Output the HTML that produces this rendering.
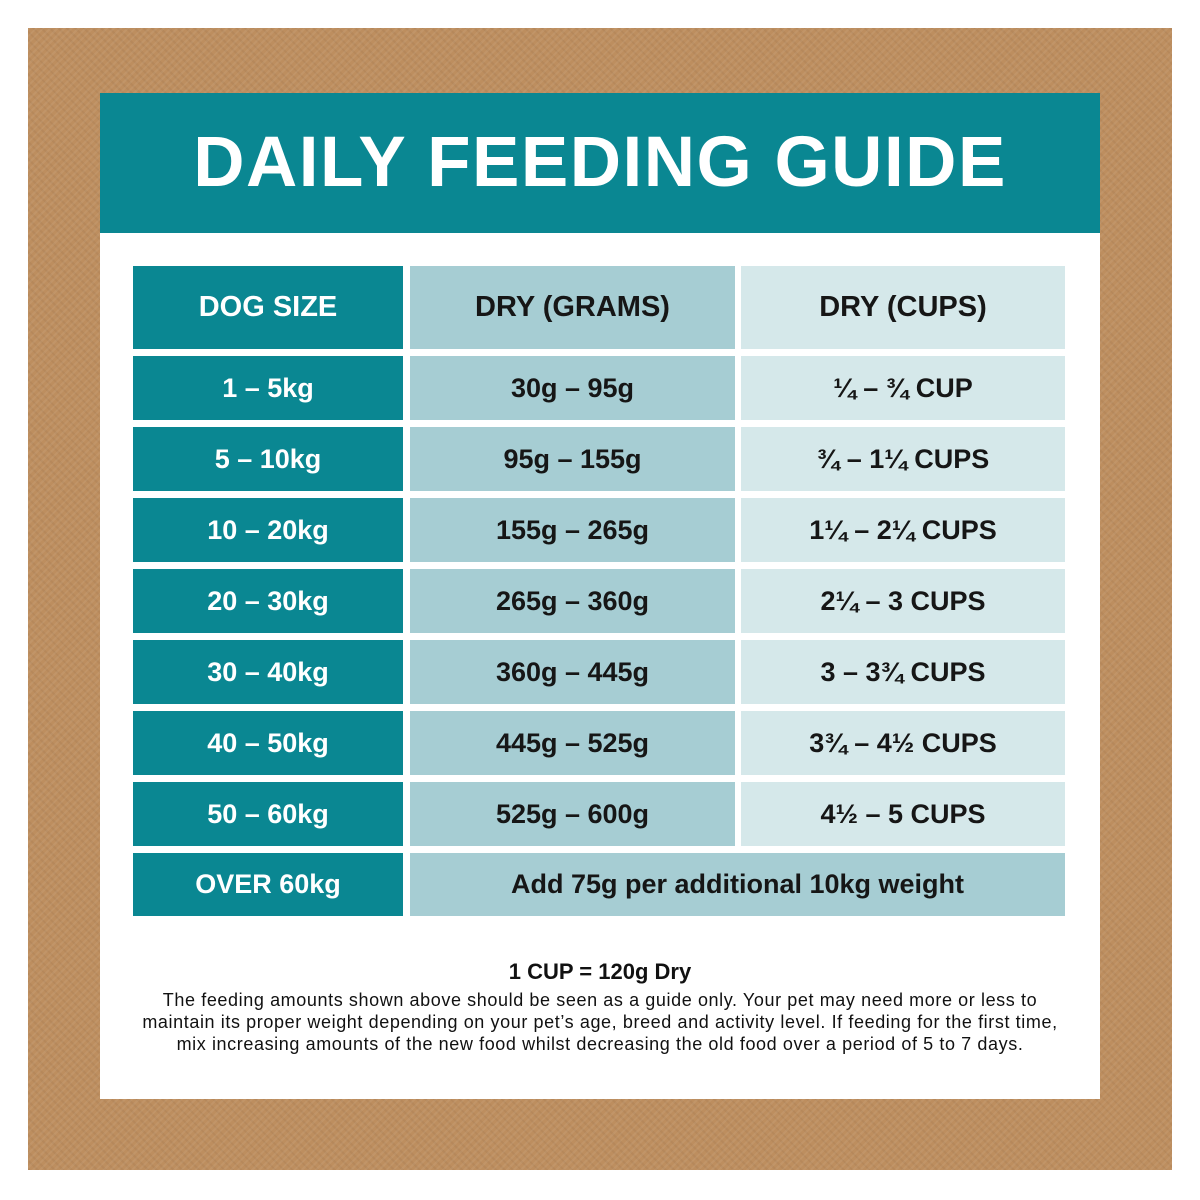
<!DOCTYPE html>
<html><head><meta charset="utf-8"><style>
*{margin:0;padding:0;box-sizing:border-box}
body{width:1200px;height:1200px;background:#fff;position:relative;font-family:"Liberation Sans",sans-serif;overflow:hidden}
.brown{position:absolute;left:28px;top:28px;width:1144px;height:1142px;background:#bd8e5f;
background-image:repeating-linear-gradient(135deg,rgba(255,255,255,.06) 0 2px,transparent 2px 5px),repeating-linear-gradient(45deg,rgba(0,0,0,.04) 0 2px,transparent 2px 6px)}
.panel{position:absolute;left:100px;top:93px;width:1000px;height:1006px;background:#fff}
.head{position:absolute;left:0;top:0;width:1000px;height:140px;background:#0a8792;color:#fff;font-weight:bold;font-size:71px;text-align:center;line-height:140px;letter-spacing:1.5px}
.c{position:absolute;display:flex;align-items:center;justify-content:center;font-weight:bold;font-size:27px;color:#161616}
.t{background:#0a8792;color:#fff}
.m{background:#a6cdd3}
.l{background:#d5e8ea}
.foot{position:absolute;left:0;width:1200px;text-align:center;color:#111}
</style></head><body>
<div class="brown"></div>
<div class="panel">
<div class="head">DAILY FEEDING GUIDE</div>
</div>
<div class="c t" style="left:133px;top:266px;width:270px;height:83px;font-size:29px">DOG SIZE</div>
<div class="c m" style="left:410px;top:266px;width:325px;height:83px;font-size:29px">DRY (GRAMS)</div>
<div class="c l" style="left:741px;top:266px;width:324px;height:83px;font-size:29px">DRY (CUPS)</div>

<div class="c t" style="left:133px;top:356px;width:270px;height:64px">1 – 5kg</div>
<div class="c m" style="left:410px;top:356px;width:325px;height:64px">30g – 95g</div>
<div class="c l" style="left:741px;top:356px;width:324px;height:64px">¼ – ¾ CUP</div>

<div class="c t" style="left:133px;top:427px;width:270px;height:64px">5 – 10kg</div>
<div class="c m" style="left:410px;top:427px;width:325px;height:64px">95g – 155g</div>
<div class="c l" style="left:741px;top:427px;width:324px;height:64px">¾ – 1¼ CUPS</div>

<div class="c t" style="left:133px;top:498px;width:270px;height:64px">10 – 20kg</div>
<div class="c m" style="left:410px;top:498px;width:325px;height:64px">155g – 265g</div>
<div class="c l" style="left:741px;top:498px;width:324px;height:64px">1¼ – 2¼ CUPS</div>

<div class="c t" style="left:133px;top:569px;width:270px;height:64px">20 – 30kg</div>
<div class="c m" style="left:410px;top:569px;width:325px;height:64px">265g – 360g</div>
<div class="c l" style="left:741px;top:569px;width:324px;height:64px">2¼ – 3 CUPS</div>

<div class="c t" style="left:133px;top:640px;width:270px;height:64px">30 – 40kg</div>
<div class="c m" style="left:410px;top:640px;width:325px;height:64px">360g – 445g</div>
<div class="c l" style="left:741px;top:640px;width:324px;height:64px">3 – 3¾ CUPS</div>

<div class="c t" style="left:133px;top:711px;width:270px;height:64px">40 – 50kg</div>
<div class="c m" style="left:410px;top:711px;width:325px;height:64px">445g – 525g</div>
<div class="c l" style="left:741px;top:711px;width:324px;height:64px">3¾ – 4½ CUPS</div>

<div class="c t" style="left:133px;top:782px;width:270px;height:64px">50 – 60kg</div>
<div class="c m" style="left:410px;top:782px;width:325px;height:64px">525g – 600g</div>
<div class="c l" style="left:741px;top:782px;width:324px;height:64px">4½ – 5 CUPS</div>

<div class="c t" style="left:133px;top:853px;width:270px;height:63px">OVER 60kg</div>
<div class="c m" style="left:410px;top:853px;width:655px;height:63px">Add 75g per additional 10kg weight</div>

<div class="foot" style="top:959px;font-weight:bold;font-size:22px">1 CUP = 120g Dry</div>
<div class="foot" style="top:989px;font-size:18px;line-height:22px;letter-spacing:0.6px">The feeding amounts shown above should be seen as a guide only. Your pet may need more or less to<br>maintain its proper weight depending on your pet’s age, breed and activity level. If feeding for the first time,<br>mix increasing amounts of the new food whilst decreasing the old food over a period of 5 to 7 days.</div>
</body></html>
